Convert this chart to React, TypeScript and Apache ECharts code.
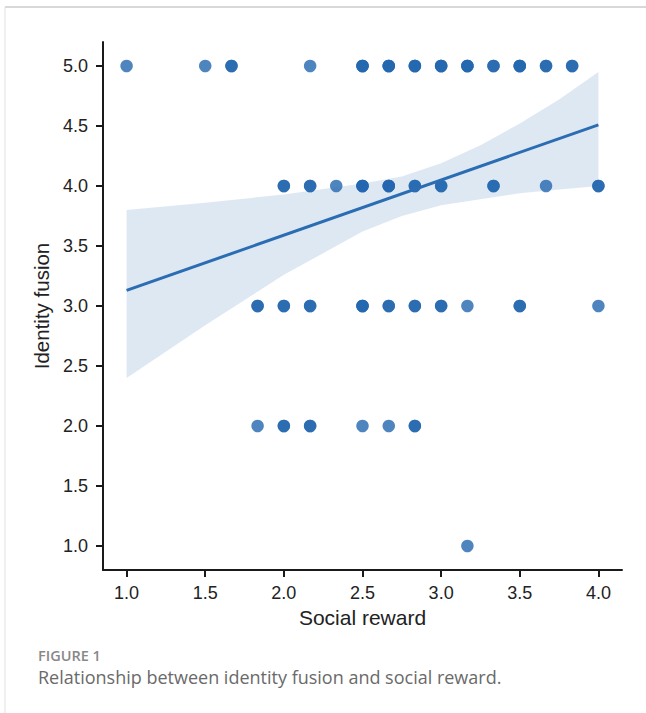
import React, { useEffect, useRef } from "react";
import * as echarts from "echarts";

// Scatter points: [social reward, identity fusion, number of overlapping respondents]
const pointsX = [
  1.0, 1.5, 1.667, 2.167, 2.5, 2.667, 2.833, 3.0, 3.167, 3.333, 3.5, 3.667, 3.833,
  2.0, 2.167, 2.333, 2.5, 2.667, 2.833, 3.0, 3.333, 3.667, 4.0,
  1.833, 2.0, 2.167, 2.5, 2.667, 2.833, 3.0, 3.167, 3.5, 4.0,
  1.833, 2.0, 2.167, 2.5, 2.667, 2.833,
  3.167,
];
const pointsY = [
  5, 5, 5, 5, 5, 5, 5, 5, 5, 5, 5, 5, 5,
  4, 4, 4, 4, 4, 4, 4, 4, 4, 4,
  3, 3, 3, 3, 3, 3, 3, 3, 3, 3,
  2, 2, 2, 2, 2, 2,
  1,
];
const pointsCount = [
  1, 1, 2, 1, 3, 3, 3, 3, 3, 2, 3, 2, 2,
  2, 2, 1, 3, 3, 2, 2, 2, 1, 2,
  2, 2, 2, 3, 2, 2, 2, 1, 2, 1,
  1, 2, 2, 1, 1, 2,
  1,
];

// Regression line
const lineX = [1.0, 4.0];
const lineY = [3.13, 4.51];

// 95% confidence band
const bandX = [1.0, 1.5, 2.0, 2.5, 2.75, 3.0, 3.25, 3.5, 3.75, 4.0];
const bandUpper = [3.8, 3.86, 3.93, 4.02, 4.08, 4.19, 4.34, 4.52, 4.72, 4.95];
const bandLower = [2.4, 2.84, 3.26, 3.62, 3.75, 3.84, 3.89, 3.94, 3.97, 4.0];

const xTicks = [1.0, 1.5, 2.0, 2.5, 3.0, 3.5, 4.0];
const yTicks = [1.0, 1.5, 2.0, 2.5, 3.0, 3.5, 4.0, 4.5, 5.0];

const BLUE = "#2367af";
const AXIS_FONT = "'Liberation Sans', Arial, sans-serif";
const CAPTION_FONT = "'Open Sans', 'Noto Sans', sans-serif";

export default function App() {
  const ref = useRef<HTMLDivElement>(null);

  useEffect(() => {
    if (!ref.current) return;
    const chart = echarts.init(ref.current, undefined, { renderer: "svg" });

    const scatterData: number[][] = [];
    pointsX.forEach((x, i) => {
      for (let k = 0; k < pointsCount[i]; k++) scatterData.push([x, pointsY[i]]);
    });

    const bandData = bandX.map((x, i) => [x, bandUpper[i], bandLower[i]]);

    chart.setOption({
      animation: false,
      backgroundColor: "#ffffff",
      grid: { left: 103, top: 42, width: 519, height: 528, containLabel: false },
      xAxis: {
        type: "value",
        min: 0.85,
        max: 4.15,
        name: "Social reward",
        nameLocation: "middle",
        nameGap: 37,
        nameTextStyle: { fontSize: 21, color: "#222", fontFamily: AXIS_FONT },
        axisLine: { onZero: false, lineStyle: { color: "#1a1a1a", width: 2 } },
        axisTick: {
          show: true,
          length: 7,
          lineStyle: { color: "#1a1a1a", width: 2 },
          customValues: xTicks,
        },
        axisLabel: {
          customValues: xTicks,
          formatter: (v: number) => v.toFixed(1),
          fontSize: 18,
          color: "#222",
          fontFamily: AXIS_FONT,
          margin: 14,
        },
        splitLine: { show: false },
      },
      yAxis: {
        type: "value",
        min: 0.8,
        max: 5.2,
        name: "Identity fusion",
        nameLocation: "middle",
        nameGap: 51,
        nameTextStyle: { fontSize: 20.5, color: "#222", fontFamily: AXIS_FONT },
        axisLine: { show: true, onZero: false, lineStyle: { color: "#1a1a1a", width: 2 } },
        axisTick: {
          show: true,
          length: 7,
          lineStyle: { color: "#1a1a1a", width: 2 },
          customValues: yTicks,
        },
        axisLabel: {
          customValues: yTicks,
          formatter: (v: number) => v.toFixed(1),
          fontSize: 18,
          color: "#222",
          fontFamily: AXIS_FONT,
          margin: 15,
        },
        splitLine: { show: false },
      },
      series: [
        {
          type: "custom",
          data: [0],
          silent: true,
          z: 1,
          renderItem: (_params: any, api: any) => {
            const pts: number[][] = [];
            bandData.forEach((d) => pts.push(api.coord([d[0], d[1]])));
            for (let i = bandData.length - 1; i >= 0; i--) {
              pts.push(api.coord([bandData[i][0], bandData[i][2]]));
            }
            return {
              type: "polygon",
              shape: { points: pts },
              style: { fill: "rgba(35,103,175,0.15)", stroke: "none" },
            };
          },
        },
        {
          type: "scatter",
          data: scatterData,
          symbolSize: 12.5,
          z: 2,
          itemStyle: { color: BLUE, opacity: 0.8 },
        },
        {
          type: "line",
          data: lineX.map((x, i) => [x, lineY[i]]),
          showSymbol: false,
          z: 3,
          lineStyle: { color: "#2a6db3", width: 3 },
        },
      ],
      graphic: [
        {
          type: "line",
          shape: { x1: 5, y1: 7, x2: 646, y2: 7 },
          style: { stroke: "#d8d8d8", lineWidth: 2 },
        },
        {
          type: "line",
          shape: { x1: 5, y1: 7, x2: 5, y2: 713 },
          style: { stroke: "#e0e0e0", lineWidth: 1 },
        },
        {
          type: "text",
          left: 38,
          top: 648,
          style: {
            text: "FIGURE 1",
            fill: "#888888",
            font: `600 14.5px ${CAPTION_FONT}`,
          },
        },
        {
          type: "text",
          left: 38,
          top: 668,
          style: {
            text: "Relationship between identity fusion and social reward.",
            fill: "#6a6a6a",
            font: `18px ${CAPTION_FONT}`,
          },
        },
      ],
    });

    return () => chart.dispose();
  }, []);

  return (
    <div
      ref={ref}
      style={{ position: "absolute", left: 0, top: 0, width: 646, height: 713 }}
    />
  );
}
